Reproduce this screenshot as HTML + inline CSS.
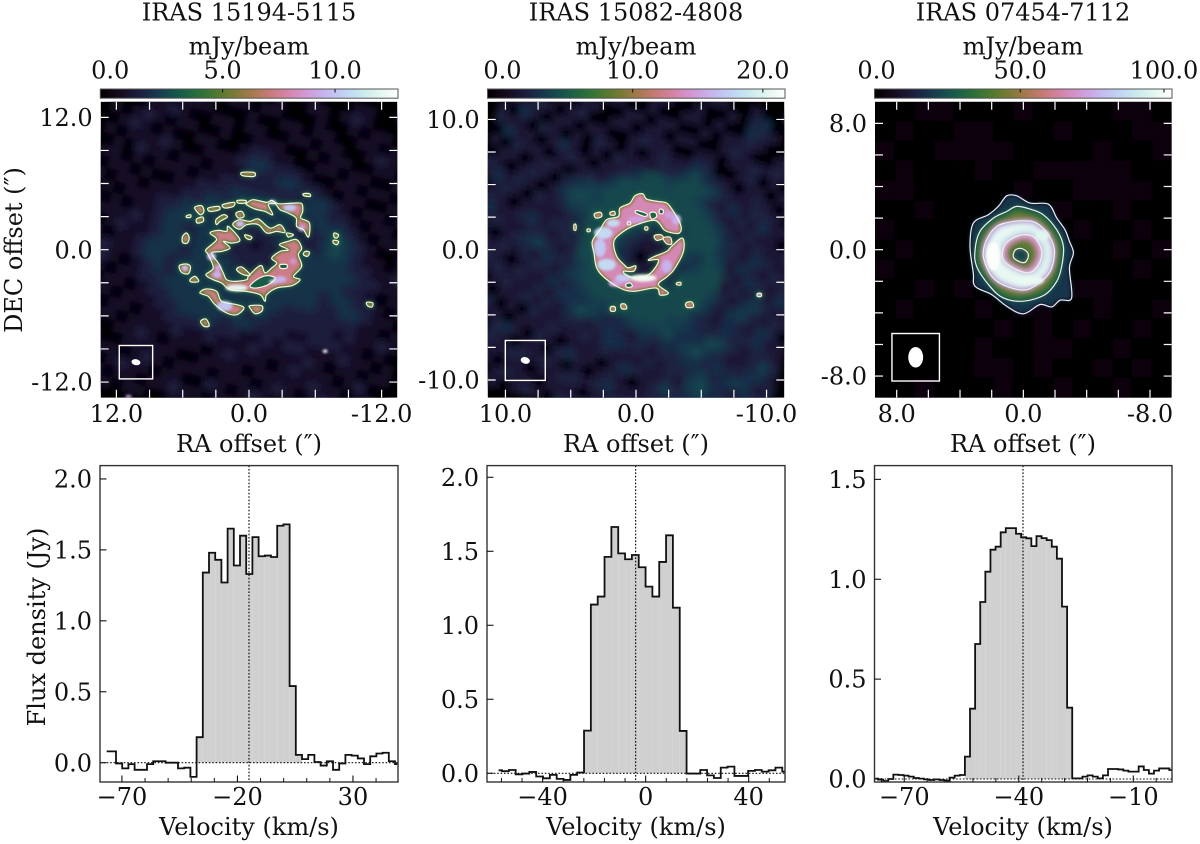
<!DOCTYPE html>
<html lang="en">
<head>
<meta charset="utf-8">
<title>IRAS ring maps and spectra</title>
<style>
html,body{margin:0;padding:0;background:#fff;}
svg{display:block;}
text{font-family:"DejaVu Serif","Liberation Serif",serif;fill:#111;font-size:24px;}
</style>
</head>
<body>
<svg id="figure" width="1200" height="844" viewBox="0 0 1200 844" xmlns="http://www.w3.org/2000/svg">
<defs>
<linearGradient id="cubehelix" x1="0" x2="1" y1="0" y2="0"></linearGradient>
<filter id="blurHeat" x="-5%" y="-5%" width="110%" height="110%"><feGaussianBlur stdDeviation="3.6"/></filter>
<filter id="blurHeat3" x="-5%" y="-5%" width="110%" height="110%"><feGaussianBlur stdDeviation="10"/></filter>
<filter id="blurHalo" x="-5%" y="-5%" width="110%" height="110%"><feGaussianBlur stdDeviation="2.4"/></filter>
<filter id="blurFill" x="-5%" y="-5%" width="110%" height="110%"><feGaussianBlur stdDeviation="0.7"/></filter>
<filter id="blurPeak" x="-5%" y="-5%" width="110%" height="110%"><feGaussianBlur stdDeviation="1.4"/></filter>
<filter id="blurBand" x="-5%" y="-5%" width="110%" height="110%"><feGaussianBlur stdDeviation="2.4"/></filter>
<filter id="erode" x="-5%" y="-5%" width="110%" height="110%"><feMorphology operator="erode" radius="1.7"/><feGaussianBlur stdDeviation="1.1"/></filter>
</defs>
<rect x="0" y="0" width="1200" height="844" fill="#fff"/>

<text x="249" y="20.7" text-anchor="middle">IRAS 15194-5115</text>
<text x="636" y="20.7" text-anchor="middle">IRAS 15082-4808</text>
<text x="1023" y="20.7" text-anchor="middle">IRAS 07454-7112</text>
<text x="249" y="54.3" text-anchor="middle">mJy/beam</text>
<text x="636" y="54.3" text-anchor="middle">mJy/beam</text>
<text x="1023" y="54.3" text-anchor="middle">mJy/beam</text>
<text x="249" y="452" text-anchor="middle">RA offset (″)</text>
<text x="636" y="452" text-anchor="middle">RA offset (″)</text>
<text x="1023" y="452" text-anchor="middle">RA offset (″)</text>
<text transform="translate(22,250) rotate(-90)" text-anchor="middle">DEC offset (″)</text>
<text transform="translate(45,627) rotate(-90)" text-anchor="middle">Flux density (Jy)</text>
<text x="249" y="835" text-anchor="middle">Velocity (km/s)</text>
<text x="636" y="835" text-anchor="middle">Velocity (km/s)</text>
<text x="1023" y="835" text-anchor="middle">Velocity (km/s)</text>
</svg>
<script>
// ---------- Spectrum data (Jy per channel) ----------
const spec1Flux=[0.08,0.08,-0.005,-0.04,-0.01,-0.05,-0.05,-0.01,0.01,0.01,0,0,-0.04,-0.035,-0.10,0.18,1.34,1.48,1.43,1.27,1.65,1.39,1.60,1.33,1.59,1.455,1.46,1.45,1.67,1.68,0.54,0.055,0.025,0.055,0.005,-0.02,0.01,-0.05,-0.005,0.055,0.05,0.03,-0.01,0.045,0.065,0.07,0.01,-0.01];
const spec1VelStart=-76.6;
const spec1VelStep=2.684;
const spec1SignalChannels=[15,31];
const spec1SystemicVel=-15;
const spec1MajorX=[-70,-20,30];
const spec1MinorX=[-60,-50,-40,-30,-10,0,10,20,40];
const spec1YTicks=[0,0.5,1,1.5,2];

const spec2Flux=[0.02,0.014,0.022,-0.007,-0.002,0.009,-0.022,-0.034,-0.011,-0.038,-0.045,-0.011,0.005,0.288,1.14,1.194,1.462,1.664,1.486,1.446,1.475,1.392,1.261,1.194,1.428,1.608,1.119,0.286,-0.002,-0.002,0.022,-0.014,-0.032,0.038,0.045,-0.018,-0.018,0.016,0.022,0.011,0.02,0.038,0.011];
const spec2VelStart=-57.1;
const spec2VelStep=2.654;
const spec2SignalChannels=[13,27];
const spec2SystemicVel=-3.9;
const spec2MajorX=[-40,0,40];
const spec2MinorX=[-56,-48,-32,-24,-16,-8,8,16,24,32,48];
const spec2YTicks=[0,0.5,1,1.5,2];

const spec3Flux=[0.002,-0.003,-0.01,0,0.022,0.02,0.017,0.012,0.005,0.002,-0.002,-0.005,-0.002,-0.005,-0.008,0.007,0.017,0.02,0.112,0.352,0.676,0.886,1.038,1.148,1.163,1.235,1.256,1.256,1.228,1.21,1.205,1.166,1.216,1.206,1.196,1.163,1.103,0.863,0.357,0.003,0.003,0.012,0.018,0.012,0.003,0.018,0.05,0.05,0.048,0.042,0.037,0.037,0.063,0.045,0.027,0.042,0.053,0.053,0.045];
const spec3VelStart=-77.55;
const spec3VelStep=1.339;
const spec3SignalChannels=[18,38];
const spec3SystemicVel=-38.9;
const spec3MajorX=[-70,-40,-10];
const spec3MinorX=[-76,-64,-58,-52,-46,-34,-28,-22,-16,-4];
const spec3YTicks=[0,0.5,1,1.5];

// ---------- Map tick values (arcsec, mJy/beam) ----------
const map1Ticks=[12,9,6,3,0,-3,-6,-9,-12];
const map1TickLabels=[12,0,-12];
const map1CbarTicks=[0,5,10];
const map2Ticks=[10,7.5,5,2.5,0,-2.5,-5,-7.5,-10];
const map2TickLabels=[10,0,-10];
const map2CbarTicks=[0,10,20];
const map3Ticks=[8,6,4,2,0,-2,-4,-6,-8];
const map3TickLabels=[8,0,-8];
const map3CbarTicks=[0,50,100];

// ---------- Map intensity grids, row 0 = north; cell value x grid unit = mJy/beam ----------
const map1GridUnit=0.62;
const map2GridUnit=0.66;
const map3GridUnit=1;
const map1Grid=[
[0,1,0,0,1,1,2,1,0,0,1,0,0,1,0,0,1,1,0,0,0,1,1,0,0,1,0,0,1,0],
[1,0,1,0,0,1,1,0,0,1,1,0,0,0,1,0,0,1,1,0,1,2,1,0,0,0,1,1,0,1],
[0,1,2,1,0,0,0,1,0,0,1,1,0,1,1,0,0,0,1,0,0,1,0,1,1,0,0,1,2,1],
[1,2,1,0,1,0,1,1,1,0,0,0,1,0,0,1,1,0,1,1,0,0,1,1,0,1,1,0,1,0],
[0,0,0,1,1,2,1,0,0,1,1,0,1,1,0,0,1,1,0,1,1,0,0,1,2,1,0,0,0,1],
[1,0,1,2,1,0,1,1,0,0,1,0,0,1,1,1,0,0,1,0,1,1,0,0,1,1,0,1,1,0],
[0,1,2,1,0,1,0,0,1,1,0,0,1,2,2,1,1,0,0,1,1,0,1,1,0,0,1,2,1,0],
[1,0,1,1,1,2,1,0,0,1,1,1,2,3,3,2,2,2,1,0,0,1,1,0,1,1,0,1,0,1],
[0,1,0,2,1,1,0,1,1,0,1,1,1,2,2,2,3,3,2,2,1,0,1,1,0,0,1,1,0,1],
[1,1,0,1,0,1,1,1,0,1,1,2,2,2,2,2,2,2,2,3,3,2,1,0,1,1,0,1,1,2],
[0,1,1,0,1,0,0,1,1,2,2,2,3,3,3,3,3,3,3,3,3,2,2,1,0,1,1,0,1,1],
[1,0,1,1,0,1,1,1,2,2,3,3,2,3,3,3,3,3,3,2,3,3,3,2,1,0,1,1,0,1],
[0,1,0,1,1,1,2,2,3,3,3,2,2,3,3,3,3,3,2,2,2,3,4,3,2,1,0,0,1,0],
[1,0,1,0,1,1,2,3,3,3,3,3,3,3,2,2,2,3,3,2,2,3,4,3,2,1,1,0,1,1],
[0,1,1,1,2,1,2,3,3,2,3,3,3,2,2,1,2,2,3,3,3,3,3,3,2,2,1,1,2,1],
[1,0,1,2,1,1,2,3,3,2,3,3,3,2,2,2,2,2,2,3,3,3,3,3,3,2,2,1,1,0],
[0,1,0,1,1,2,3,3,3,2,3,3,3,3,2,2,2,3,3,3,3,3,3,3,2,2,1,0,1,1],
[1,1,2,1,1,2,3,3,2,3,3,3,3,3,3,3,3,3,3,3,3,3,2,3,3,2,2,1,0,1],
[0,1,2,1,0,1,2,3,2,3,3,3,3,3,3,3,3,3,3,3,3,3,2,2,3,3,2,1,1,0],
[1,0,1,0,1,1,2,2,3,3,3,3,3,3,3,3,3,3,3,2,2,2,2,2,2,2,1,1,0,1],
[0,1,0,1,1,0,1,2,2,3,3,3,3,3,3,3,2,3,2,2,2,2,2,2,1,2,1,1,2,1],
[1,0,1,1,0,1,1,1,2,2,3,3,3,3,2,3,3,2,2,2,1,1,2,2,2,1,1,0,1,0],
[0,1,1,0,1,1,0,1,1,2,2,2,2,2,2,2,1,1,2,1,2,2,1,1,1,2,1,1,0,1],
[1,0,0,1,1,0,1,1,1,1,2,1,1,2,1,1,1,2,1,1,1,1,2,1,0,1,1,0,1,1],
[0,1,1,0,0,1,1,2,1,0,1,1,1,0,1,2,1,1,1,0,1,2,1,1,1,0,1,2,0,0],
[1,0,1,1,0,0,1,1,1,1,1,0,0,1,1,1,1,0,1,1,1,1,1,2,1,1,0,1,1,0],
[0,0,1,1,1,1,0,1,2,1,0,1,1,1,0,1,1,1,0,1,2,1,0,1,2,1,1,0,1,1],
[1,1,2,0,0,1,2,1,1,0,1,1,0,0,2,1,0,1,2,1,0,1,1,0,1,1,0,1,2,1],
[0,1,1,1,1,0,1,1,0,1,1,2,1,1,0,1,1,0,1,1,1,0,1,2,1,0,1,1,1,0],
[1,0,0,2,1,1,0,1,1,0,0,1,1,0,1,1,0,1,1,0,1,1,0,1,0,1,1,0,1,1]];
const map2Grid=[
[0,2,0,4,2,0,0,2,0,0,2,0,2,0,0,2,0,0,2,2,0,0,2,0,0,2,4,2,2,4],
[2,0,2,2,0,2,0,0,2,0,0,2,0,2,2,0,0,2,0,0,2,0,3,4,0,0,2,3,4,2],
[0,3,2,0,2,4,2,0,0,2,2,0,0,2,0,0,2,2,0,2,0,0,4,3,2,0,0,2,2,0],
[2,4,0,2,0,2,0,2,2,0,0,2,2,0,2,2,0,0,2,0,2,2,3,2,0,0,2,4,2,0],
[0,2,2,3,2,0,2,3,0,0,2,2,0,2,2,0,2,2,0,0,2,3,2,0,0,2,3,2,0,2],
[2,0,4,2,0,2,2,0,2,2,0,0,2,3,2,2,0,0,2,2,0,2,2,3,2,3,2,0,2,3],
[3,2,2,0,3,2,0,2,0,3,2,0,2,0,2,3,2,2,4,3,0,0,2,3,0,2,0,2,3,2],
[0,4,2,2,0,2,4,2,0,2,0,3,2,2,2,3,3,4,6,4,3,2,0,2,2,0,2,3,2,0],
[2,0,3,2,2,0,2,3,2,0,2,2,3,4,6,6,5,6,6,6,5,3,2,2,3,2,0,2,2,2],
[0,2,2,0,2,3,2,0,2,3,2,4,6,6,6,6,6,6,6,5,3,2,4,2,3,3,2,0,2,3],
[3,2,0,2,3,2,0,3,4,5,5,6,6,6,6,6,6,6,6,6,5,3,2,3,2,4,2,2,3,2],
[2,4,2,3,2,0,2,4,6,6,5,6,6,6,6,6,6,6,6,6,6,5,3,2,3,2,2,0,2,0],
[0,2,3,2,0,3,2,3,5,5,6,6,6,6,6,6,5,4,5,6,6,6,4,3,2,3,2,2,3,2],
[2,3,2,0,2,2,2,2,3,4,6,6,6,6,5,3,2,3,5,6,6,6,4,3,2,4,3,2,2,4],
[0,4,2,2,3,4,2,3,3,3,6,6,6,5,3,2,2,3,5,5,4,6,5,2,4,3,2,3,2,3],
[2,2,3,2,2,3,3,2,3,3,6,6,6,4,3,0,2,2,3,4,5,6,6,3,2,4,3,2,3,2],
[3,2,0,2,3,4,5,3,2,3,6,6,6,5,3,2,2,4,3,6,6,6,6,2,3,2,4,2,4,3],
[2,3,2,3,2,3,2,4,3,3,5,6,6,6,5,3,4,4,5,6,6,6,5,3,2,4,5,3,2,2],
[0,2,3,2,0,2,3,3,2,4,5,6,6,6,6,6,6,6,6,6,6,6,4,2,4,5,3,2,3,2],
[2,0,2,3,2,3,2,2,4,3,4,5,6,6,6,6,6,6,6,6,6,4,3,2,4,3,2,4,3,0],
[0,2,0,2,3,2,2,3,2,4,4,4,5,5,6,6,6,6,6,5,5,4,3,3,4,3,3,4,2,2],
[2,3,2,0,2,2,3,2,3,2,4,6,5,4,3,4,5,5,5,6,4,4,4,6,5,3,2,3,3,2],
[0,2,2,3,0,2,0,3,2,2,3,3,2,3,4,3,2,4,3,4,4,5,6,4,3,2,2,3,5,3],
[2,0,3,2,2,0,2,2,2,3,2,2,3,2,4,4,3,3,2,3,3,4,4,3,4,3,3,4,4,2],
[3,2,2,0,3,4,2,0,3,2,0,2,2,2,3,2,2,2,3,2,3,3,4,5,3,4,5,4,2,3],
[2,2,0,2,3,2,0,2,2,0,3,4,2,2,0,2,4,3,2,2,3,2,5,6,4,3,2,4,3,2],
[0,3,2,3,2,2,3,3,2,3,2,0,2,0,2,3,2,0,2,3,5,3,4,5,3,4,3,2,3,0],
[2,4,4,3,2,0,2,2,0,2,2,3,3,2,3,4,2,2,2,3,2,4,3,2,3,3,4,2,2,3],
[0,3,5,2,0,2,3,2,2,0,2,2,2,0,2,2,3,3,3,2,4,3,2,4,2,3,2,3,0,2],
[2,5,4,2,3,2,0,2,3,2,0,3,2,3,2,0,2,4,2,0,2,3,2,0,3,2,0,2,3,2]];
const map3Grid=[
[0,0,1,1,0,0,0,1,0,0,0,0,1,1,0],
[0,1,0,0,1,1,0,0,0,1,0,0,0,1,1],
[1,0,0,1,1,2,1,0,0,0,0,1,0,0,1],
[0,1,0,0,0,1,0,0,1,1,1,1,1,0,0],
[1,1,0,0,0,0,0,1,0,0,1,1,1,1,0],
[0,0,1,0,0,0,0,0,0,1,0,0,1,0,0],
[1,0,0,0,0,0,0,0,0,0,1,0,0,1,0],
[0,1,0,0,0,0,0,0,0,0,0,0,1,0,1],
[1,0,0,0,0,0,0,0,0,0,0,0,0,1,0],
[0,0,1,0,1,0,0,0,0,0,1,1,0,0,0],
[0,1,0,0,0,1,0,1,1,0,0,1,0,0,1],
[0,0,0,0,0,0,1,0,1,0,1,0,0,1,0],
[0,0,0,0,0,1,0,0,1,1,0,0,1,0,0],
[0,0,0,0,0,1,1,0,1,0,0,1,0,1,0],
[0,0,1,0,0,0,1,0,0,1,0,0,1,0,0]];

// ---------- Contours, [RA, Dec] in arcsec ----------
const map1Contours=[
[[.21,4.23],[-.39,4.53],[-1.6,4.29],[-2.05,4.47],[-2.66,4.17],[-4.02,4.23],[-4.77,4.17],[-4.86,3.47],[-4.68,2.87],[-5.47,2.42],[-5.38,1.15],[-4.92,1.81],[-4.32,2.11],[-4.26,2.87],[-3.56,3.32],[-2.81,3.63],[-2.36,4.17],[-1.75,4.08],[-2.15,3.17],[-1.45,3.47],[-.54,3.69],[.21,4.08]],
[[1.42,2.42],[.82,2.72],[-.09,2.57],[-.85,2.78],[-1.9,1.96],[-2.81,2.27],[-3.26,1.57],[-2.51,1.66],[-1.6,1.51],[-.85,2.27],[.21,2.27],[.82,1.87],[1.36,2.11]],
[[3.53,1.51],[2.78,1.75],[2.02,1.66],[1.87,2.11],[.82,.91],[1.57,.6],[2.33,.76],[1.72,.15],[2.48,-.15],[3.38,-.3],[2.78,-1.21],[2.33,-2.11],[2.02,-2.72],[1.27,-2.87],[.21,-2.72],[.06,-2.42],[-.69,-1.66],[-1.15,-1.45],[-1.45,-2.11],[-2.05,-1.66],[-2.51,-1.21],[-2.05,-.76],[-2.81,-.15],[-3.56,0],[-2.75,.45],[-3.56,.76],[-4.32,.91],[-4.77,.15],[-4.47,-.45],[-4.77,-1.51],[-4.02,-2.42],[-4.62,-2.72],[-3.87,-3.26],[-2.51,-3.47],[-1.6,-4.08],[-1.45,-4.68],[-1.0,-4.08],[.21,-3.78],[1.72,-3.63],[2.48,-3.02],[3.23,-2.72],[3.9,-2.27],[3.23,-1.66],[3.69,-.45],[3.9,0],[2.93,.91]],
[[1.12,-1.81],[.66,-1.57],[-.09,-2.27],[.51,-2.27]],
[[4.44,-3.93],[3.9,-3.56],[2.93,-3.78],[2.48,-4.68],[1.12,-4.98],[.45,-5.29],[1.12,-5.89],[2.02,-5.74],[3.08,-4.98],[3.69,-4.23]],
[[-.09,-5.08],[-1.15,-5.08],[-1.15,-5.59],[-.54,-5.8],[-.09,-5.29]],
[[4.89,3.87],[4.29,3.99],[4.08,3.47],[4.38,3.17],[4.8,3.56]],
[[3.69,3.78],[2.78,3.93],[2.69,3.63],[3.53,3.47]],
[[2.39,4.08],[1.36,4.29],[1.42,3.93],[2.18,3.78]],
[[1.06,4.47],[.3,4.47],[.36,4.23],[.97,4.23]],
[[4.74,2.78],[4.2,2.96],[4.14,2.57],[4.68,2.42]],
[[5.65,3.08],[5.29,3.17],[5.29,2.93],[5.65,2.93]],
[[2.99,2.72],[2.33,3.17],[1.96,2.96],[2.63,2.57],[2.93,2.27]],
[[1.18,3.32],[.66,3.47],[.45,3.02],[.97,2.87]],
[[6.01,1.21],[5.65,1.51],[5.41,1.06],[5.59,.6],[6.01,.66]],
[[6.31,-1.45],[5.65,-1.3],[5.29,-1.57],[5.5,-2.18],[6.1,-2.05]],
[[5.35,-2.72],[4.89,-2.42],[4.56,-2.87],[5.2,-2.93]],
[[4.38,-6.5],[3.9,-6.28],[3.6,-6.89],[4.08,-6.95]],
[[-4.92,5.08],[-5.47,5.08],[-5.53,4.83],[-4.98,4.89]],
[[-3.41,1.51],[-4.02,1.36],[-3.56,1.15]],
[[-5.08,-.15],[-5.47,-.24],[-5.29,-.6],[-4.92,-.45]],
[[-7.7,1.51],[-8.1,1.36],[-7.95,1.06],[-7.7,1.15]],
[[-7.64,.85],[-8.1,.76],[-7.95,.45],[-7.64,.6]],
[[-10.66,-4.77],[-11.2,-4.83],[-11.12,-5.2],[-10.72,-5.08]],
[[.36,1.36],[-.24,1.15],[-.09,.91],[.27,1.06]],
[[.66,7.0],[-.45,7.0],[-.45,6.65],[.57,6.71]]];
const map1Holes=[
[[-.09,-3.32],[-.69,-2.72],[-1.6,-2.36],[-2.36,-2.57],[-1.75,-3.17],[-.69,-3.47]],
[[-2.81,-1.36],[-3.41,-1.36],[-3.41,-1.66],[-2.87,-1.69]]];
// [RA, Dec, mJy/beam, radius RA, radius Dec]
const map1Peaks=[[1.12,-3.47,12,1.0,.3],[2.2,-5.1,10,.7,.45],[3.4,-.6,9.5,.4,.35],[2.8,-1.66,9,.3,.3],[2.9,-2.27,9.5,.4,.3],[-2.8,-2.7,9.5,.6,.3],[-3.7,3.8,10,.6,.3],[-2.15,4.3,10,.3,.2],[.8,2.35,10,.35,.25],[5.8,-1.66,10,.25,.25],[-4.77,1.96,9,.3,.3],[-4,-1.06,8.5,.3,.3],[-6.89,-9.21,13,.22,.16],[10.9,-13.3,9,.3,.14],[-2.2,-2.9,10,.4,.2]];

const map2Contours=[
[[.08,4.14],[-.51,4.29],[-.82,3.88],[-1.71,3.7],[-2.35,3.58],[-2.78,3.07],[-3.42,1.92],[-3.32,1.28],[-2.61,1.33],[-2.15,1.53],[-1.46,2.25],[-.05,1.92],[.97,1.4],[1.69,.64],[1.48,-.51],[.92,-1.15],[.59,-1.4],[.03,-1.23],[.2,-1.66],[.97,-1.66],[.46,-2.09],[-.82,-1.99],[-1.46,-1.4],[-1.71,-.77],[-.95,-.82],[-1.33,-.56],[-2.35,-.13],[-2.73,.26],[-3.55,.89],[-3.63,-.13],[-2.91,-1.53],[-2.35,-2.09],[-1.71,-2.68],[-2.48,-3.32],[-1.84,-3.47],[-1.53,-2.94],[.2,-3.19],[1.23,-2.94],[2.38,-2.17],[3.01,-1.4],[3.22,-.26],[3.35,.64],[2.76,1.53],[2.25,2.3],[1.35,2.55],[1.23,3.19],[.46,3.58]],
[[-1.4,1.07],[-1.89,1.15],[-2.09,.89],[-1.58,.72]],
[[-2.09,.89],[-2.61,.95],[-2.73,.46],[-2.35,.46]],
[[3.19,2.76],[2.71,2.86],[2.63,2.55],[3.07,2.43]],
[[1.99,2.86],[1.66,2.94],[1.61,2.68],[1.94,2.66]],
[[1.94,-4.39],[1.61,-4.39],[1.61,-4.7],[1.94,-4.7]],
[[1.15,-4.19],[.82,-4.19],[.72,-4.52],[1.1,-4.52]],
[[-3.83,-4.09],[-4.27,-4.01],[-4.39,-4.39],[-3.88,-4.42]],
[[-3.12,-2.55],[-3.42,-2.5],[-3.42,-2.71],[-3.12,-2.68]],
[[-9.3,-3.37],[-9.58,-3.37],[-9.58,-3.58],[-9.3,-3.58]],
[[4.75,1.92],[4.6,1.92],[4.6,1.53],[4.75,1.53]],
[[3.73,1.58],[3.52,1.58],[3.52,1.4],[3.73,1.4]],
[[.64,2.12],[.43,2.12],[.43,1.92],[.64,1.92]],
[[-.69,1.74],[-.89,1.74],[-.89,1.53],[-.69,1.53]]];
const map2Holes=[
[[-.05,3.01],[-.82,2.76],[-.69,2.55],[0,2.82]],
[[-1.07,2.81],[-1.46,2.86],[-1.58,2.55],[-1.2,2.35]],
[[-1.84,3.12],[-2.09,3.01],[-2.04,2.76],[-1.79,2.81]],
[[.79,-2.68],[.46,-2.55],[.28,-2.81],[.66,-2.89]]];
const map2Peaks=[[2.5,1.28,18,.7,.45],[2.76,.13,17,.45,.7],[2.25,-1.15,18,.7,.45],[-.56,-2.17,21,1.0,.28],[.97,-2.17,17,.6,.3],[1.74,2.04,18,.5,.3],[-2.35,-1.28,16,.4,.5],[-3.1,2.3,16,.35,.4],[0,2.3,15,.7,.25],[-2.6,2.68,15,.4,.3],[1.6,-2.6,15,.5,.25],[-9.45,-3.47,16,.16,.12]];

const map3OuterContour=[[1.05,3.41],[.42,3.41],[-.42,2.95],[-1.58,2.88],[-2.11,2.0],[-2.63,1.26],[-2.91,.53],[-3.16,-.21],[-2.91,-1.16],[-3.05,-3.05],[-2.32,-3.2],[-1.79,-3.62],[-1.05,-3.47],[0,-4.06],[1.05,-3.58],[2.0,-2.84],[3.05,-2.32],[3.16,-1.47],[3.37,.21],[3.16,1.68],[2.21,2.21],[1.58,2.74]];
const map3SecondContour=[[.42,2.74],[-.42,2.57],[-1.26,2.21],[-2.11,1.26],[-2.53,.21],[-2.42,-1.05],[-2.11,-2.0],[-1.37,-2.84],[0,-3.26],[1.26,-3.05],[2.11,-2.32],[2.95,-1.05],[3.05,0],[2.74,1.16],[1.89,2.0],[1.05,2.42]];
const map3ThirdContour=[[-.11,1.83],[-.84,1.68],[-1.58,.95],[-1.96,0],[-1.79,-1.16],[-1.26,-1.89],[-.21,-2.53],[1.05,-2.32],[2.0,-1.68],[2.53,-.42],[2.32,.63],[1.68,1.47],[.84,1.75]];
const map3InnerContour=[[0,.95],[-.74,.74],[-1.16,-.11],[-.95,-.95],[-.32,-1.47],[.63,-1.16],[1.26,-.63],[1.26,.11],[.84,.63]];
const map3CenterContour=[[.17,.08],[-.21,-.11],[-.32,-.42],[-.11,-.8],[.25,-.76],[.63,-.46],[.53,-.04]];
const map3BandValues=[18,32,44,58,80,98,90,66,42,22];
const map3Peaks=[[1.9,-.42,102,.45,.9],[-.4,-1.95,98,.9,.3],[-1.2,.9,96,.45,.35]];
const map3RingCentre=[.2,-.35];

// ---------- Colour map ----------
function cubehelix(l){
  l=Math.max(0,Math.min(1,l));
  const a=l*(1-l)/2, p=2*Math.PI*(0.5/3-1.5*l), c=Math.cos(p), s=Math.sin(p);
  const r=l+a*(-0.14861*c+1.78277*s), g=l+a*(-0.29227*c-0.90649*s), b=l+a*(1.97294*c);
  const f=v=>Math.round(255*Math.max(0,Math.min(1,v)));
  return 'rgb('+f(r)+','+f(g)+','+f(b)+')';
}
const NS='http://www.w3.org/2000/svg';
const svg=document.getElementById('figure');
function node(tag,parent,attrs,txt){
  const el=document.createElementNS(NS,tag);
  for(const k in attrs) el.setAttribute(k,attrs[k]);
  if(txt!==undefined) el.textContent=txt;
  parent.appendChild(el);
  return el;
}
function linear(d0,d1,r0,r1){return v=>r0+(v-d0)*(r1-r0)/(d1-d0);}
function curve(pts){
  const n=pts.length; let d='M'+pts[0][0].toFixed(1)+' '+pts[0][1].toFixed(1);
  for(let i=0;i<n;i++){
    const p0=pts[(i-1+n)%n],p1=pts[i],p2=pts[(i+1)%n],p3=pts[(i+2)%n];
    d+='C'+(p1[0]+(p2[0]-p0[0])/6).toFixed(1)+' '+(p1[1]+(p2[1]-p0[1])/6).toFixed(1)+' '+(p2[0]-(p3[0]-p1[0])/6).toFixed(1)+' '+(p2[1]-(p3[1]-p1[1])/6).toFixed(1)+' '+p2[0].toFixed(1)+' '+p2[1].toFixed(1);
  }
  return d+'Z';
}
const gradient=document.getElementById('cubehelix');
for(let i=0;i<=48;i++){
  node('stop',gradient,{offset:(i/48*100)+'%','stop-color':cubehelix(i/48)});
}

// ---------- Map axes ----------
function makeMapAxes(box,lim){
  const x=linear(lim,-lim,box[0],box[1]);
  const y=linear(lim,-lim,box[2],box[3]);
  return {x:x,y:y,path:(pts)=>curve(pts.map(p=>[x(p[0]),y(p[1])]))};
}
function drawColorbar(box,vmin,vmax,ticks){
  const g=node('g',svg,{});
  
  
  const cx=linear(vmin,vmax,box[0],box[1]);
  const bar=node('rect',g,{x:box[0],y:89,width:box[1]-box[0],height:9.2,fill:'url(#cubehelix)',stroke:'#555','stroke-width':1});
  
  
  ticks.forEach(t=>{
    const tk=node('line',g,{x1:cx(t),x2:cx(t),y1:89,y2:92.5,stroke:'#111','stroke-width':1});
    
    
    const lb=node('text',g,{x:cx(t),y:78.7,'text-anchor':'middle'},t.toFixed(1));
    
    
  });
}
function drawMapFrame(g,box,axes,ticks,labels){
  ticks.forEach(t=>{
    [[axes.x(t),box[2],axes.x(t),box[2]+8],[axes.x(t),box[3],axes.x(t),box[3]-8],[box[0],axes.y(t),box[0]+8,axes.y(t)],[box[1],axes.y(t),box[1]-8,axes.y(t)]].forEach(s=>{
      const tk=node('line',g,{x1:s[0],y1:s[1],x2:s[2],y2:s[3],stroke:'#fff','stroke-width':1.2});
      
      
    });
  });
  labels.forEach(t=>{
    const lx=node('text',svg,{x:axes.x(t),y:422,'text-anchor':'middle'},t.toFixed(1));
    
    
    const ly=node('text',svg,{x:box[0]-8,y:axes.y(t)+8.6,'text-anchor':'end'},t.toFixed(1));
    
    
  });
}
function drawHeat(parent,grid,unit,box,vmin,vmax,filterId,tilt){
  const cxm=(box[0]+box[1])/2, cym=(box[2]+box[3])/2;
  const attrs={filter:'url(#'+filterId+')'};
  if(tilt) attrs.transform='translate('+cxm+' '+cym+') rotate('+tilt+') scale(1.14) translate('+(-cxm)+' '+(-cym)+')';
  const g=node('g',parent,attrs);
  
  
  const rows=grid.length, cols=grid[0].length;
  const col=linear(0,cols,box[0],box[1]), row=linear(0,rows,box[2],box[3]);
  const norm=linear(vmin,vmax,0,1);
  grid.forEach((rowVals,r)=>rowVals.forEach((v,c)=>{
    const cell=node('rect',g,{x:col(c)-.2,y:row(r)-.2,width:col(c+1)-col(c)+.4,height:row(r+1)-row(r)+.4,fill:v===0?'#000':cubehelix(norm(v*unit))});
    
    
  }));
}
function drawPeaks(parent,peaks,axes,vmin,vmax,filterId){
  const norm=linear(vmin,vmax,0,1);
  const g=node('g',parent,{filter:'url(#'+filterId+')'});
  
  
  peaks.forEach(p=>{
    const sx=Math.abs(axes.x(1)-axes.x(0)), sy=Math.abs(axes.y(1)-axes.y(0));
    const e=node('ellipse',g,{cx:axes.x(p[0]),cy:axes.y(p[1]),rx:p[3]*sx,ry:p[4]*sy,fill:cubehelix(norm(p[2]))});
    
    
  });
}
function drawBeam(parent,axes,cx,cy,half,rx,ry,rot){
  const px=axes.x(cx), py=axes.y(cy), sx=Math.abs(axes.x(1)-axes.x(0));
  const b=node('rect',parent,{x:px-half*sx,y:py-half*sx,width:2*half*sx,height:2*half*sx,fill:'none',stroke:'#fff','stroke-width':1.4});
  
  
  const e=node('ellipse',parent,{cx:px,cy:py,rx:rx*sx,ry:ry*sx,fill:'#fff',transform:'rotate('+rot+' '+px+' '+py+')'});
  
  
}
function drawRingMap(id,box,lim,grid,unit,contours,holes,peaks,vmin,vmax,fillLow,fillHigh,haloVal,holeVal,ticks,labels,beam){
  const axes=makeMapAxes(box,lim);
  const norm=linear(vmin,vmax,0,1);
  const clip=node('clipPath',svg,{id:'clip'+id});
  node('rect',clip,{x:box[0],y:box[2],width:box[1]-box[0],height:box[3]-box[2]});
  const g=node('g',svg,{'clip-path':'url(#clip'+id+')'});
  
  
  const bg=node('rect',g,{x:box[0],y:box[2],width:box[1]-box[0],height:box[3]-box[2],fill:'#000'});
  
  
  drawHeat(g,grid,unit,box,vmin,vmax,'blurHeat',14);
  const halo=node('g',g,{filter:'url(#blurHalo)'});
  
  
  contours.forEach(c=>{
    const p=node('path',halo,{d:axes.path(c),fill:cubehelix(norm(haloVal)),stroke:cubehelix(norm(haloVal)),'stroke-width':2.5});
    
    
  });
  const low=node('g',g,{filter:'url(#blurFill)'});
  
  
  contours.forEach(c=>{
    const p=node('path',low,{d:axes.path(c),fill:cubehelix(norm(fillLow))});
    
    
  });
  const high=node('g',g,{filter:'url(#erode)'});
  
  
  contours.forEach(c=>{
    const p=node('path',high,{d:axes.path(c),fill:cubehelix(norm(fillHigh))});
    
    
  });
  holes.forEach(c=>{
    const p=node('path',g,{d:axes.path(c),fill:cubehelix(norm(holeVal))});
    
    
  });
  drawPeaks(g,peaks,axes,vmin,vmax,'blurPeak');
  contours.concat(holes).forEach(c=>{
    const p=node('path',g,{d:axes.path(c),fill:'none',stroke:'#f4f6e2','stroke-width':1.2});
    
    
  });
  drawBeam(g,axes,beam[0],beam[1],beam[2],beam[3],beam[4],beam[5]);
  drawMapFrame(g,box,axes,ticks,labels);
}
function scaled(pts,k){return pts.map(p=>[map3RingCentre[0]+(p[0]-map3RingCentre[0])*k,map3RingCentre[1]+(p[1]-map3RingCentre[1])*k]);}
function drawMap3(box,lim,vmin,vmax){
  const axes=makeMapAxes(box,lim);
  const norm=linear(vmin,vmax,0,1);
  const clip=node('clipPath',svg,{id:'clip3'});
  node('rect',clip,{x:box[0],y:box[2],width:box[1]-box[0],height:box[3]-box[2]});
  const g=node('g',svg,{'clip-path':'url(#clip3)'});
  
  
  const bg=node('rect',g,{x:box[0],y:box[2],width:box[1]-box[0],height:box[3]-box[2],fill:'#000'});
  
  
  drawHeat(g,map3Grid,map3GridUnit,box,vmin,vmax,'blurHeat3',0);
  const shapes=[map3OuterContour,map3SecondContour,scaled(map3SecondContour,.87),scaled(map3ThirdContour,1.04),map3ThirdContour,scaled(map3ThirdContour,.9),scaled(map3InnerContour,1.25),map3InnerContour,scaled(map3InnerContour,.76),map3CenterContour];
  const bands=node('g',g,{filter:'url(#blurBand)'});
  
  
  shapes.forEach((s,i)=>{
    const p=node('path',bands,{d:axes.path(s),fill:cubehelix(norm(map3BandValues[i]))});
    
    
  });
  drawPeaks(g,map3Peaks,axes,vmin,vmax,'blurPeak');
  [map3OuterContour,map3SecondContour,map3ThirdContour,map3InnerContour,map3CenterContour].forEach(c=>{
    const p=node('path',g,{d:axes.path(c),fill:'none',stroke:'#f2ecf8','stroke-width':1.2});
    
    
  });
  drawBeam(g,axes,6.8,-6.81,1.5,.47,.65,0);
  drawMapFrame(g,box,axes,map3Ticks,map3TickLabels);
}

// ---------- Spectra ----------
function drawSpectrum(box,xlim,ylim,flux,v0,dv,signal,sysVel,majorX,minorX,yTicks){
  const x=linear(xlim[0],xlim[1],box[0],box[1]);
  const y=linear(ylim[0],ylim[1],box[3],box[2]);
  const id='spec'+Math.round(box[0]);
  const clip=node('clipPath',svg,{id:id});
  node('rect',clip,{x:box[0],y:box[2],width:box[1]-box[0],height:box[3]-box[2]});
  const g=node('g',svg,{});
  
  
  const plot=node('g',g,{'clip-path':'url(#'+id+')'});
  
  
  flux.forEach((f,i)=>{
    if(i<signal[0]||i>signal[1]) return;
    const c=v0+i*dv;
    const bar=node('rect',plot,{x:x(c-dv/2),width:x(c+dv/2)-x(c-dv/2),y:Math.min(y(f),y(0)),height:Math.abs(y(f)-y(0)),fill:'#d0d0d0'});
    
    
  });
  const h=node('line',plot,{x1:box[0],x2:box[1],y1:y(0),y2:y(0),stroke:'#111','stroke-width':1.1,'stroke-dasharray':'1.6 1.8'});
  
  
  let d='M'+x(v0)+' '+y(flux[0]);
  flux.forEach((f,i)=>{
    const c=v0+i*dv;
    if(i>0) d+='V'+y(f);
    d+='H'+x(c+(i===flux.length-1?0:dv/2));
  });
  const line=node('path',plot,{d:d,fill:'none',stroke:'#111','stroke-width':1.8,'stroke-linejoin':'miter'});
  
  
  const v=node('line',plot,{x1:x(sysVel),x2:x(sysVel),y1:box[2],y2:box[3],stroke:'#111','stroke-width':1.2,'stroke-dasharray':'1.6 1.8'});
  
  
  const fr=node('rect',g,{x:box[0],y:box[2],width:box[1]-box[0],height:box[3]-box[2],fill:'none',stroke:'#333','stroke-width':1.4});
  
  
  majorX.forEach(t=>{
    const tk=node('line',g,{x1:x(t),x2:x(t),y1:box[3],y2:box[3]-6.5,stroke:'#111','stroke-width':1.1});
    
    
    const lb=node('text',g,{x:x(t),y:805,'text-anchor':'middle'},(t<0?'\u2212':'')+Math.abs(t));
    
    
  });
  minorX.forEach(t=>{
    const tk=node('line',g,{x1:x(t),x2:x(t),y1:box[3],y2:box[3]-4,stroke:'#111','stroke-width':1});
    
    
  });
  yTicks.forEach(t=>{
    const tk=node('line',g,{x1:box[0],x2:box[0]+6.5,y1:y(t),y2:y(t),stroke:'#111','stroke-width':1.1});
    
    
    const lb=node('text',g,{x:box[0]-8,y:y(t)+8.6,'text-anchor':'end'},t.toFixed(1));
    
    
  });
}

drawColorbar([100.3,398],-0.44,12.8,map1CbarTicks);
drawColorbar([487.5,785],-1.15,21.7,map2CbarTicks);
drawColorbar([874.5,1172],-0.7,102.8,map3CbarTicks);
drawRingMap(1,[100.7,397.3,101.7,397.7],13.42,map1Grid,map1GridUnit,map1Contours,map1Holes,map1Peaks,-0.44,12.8,5.2,7.3,3.6,3.2,map1Ticks,map1TickLabels,[10.23,-10.2,1.51,.41,.27,12]);
drawRingMap(2,[487.7,784.3,101.7,397.7],11.36,map2Grid,map2GridUnit,map2Contours,map2Holes,map2Peaks,-1.15,21.7,10,13.5,6,5.5,map2Ticks,map2TickLabels,[8.48,-8.5,1.53,.36,.25,15]);
drawMap3([875,1171.7,101.7,397.7],9.37,-0.7,102.8);
drawSpectrum([100,398,465.6,782],[-79.5,49.5],[-0.136,2.094],spec1Flux,spec1VelStart,spec1VelStep,spec1SignalChannels,spec1SystemicVel,spec1MajorX,spec1MinorX,spec1YTicks);
drawSpectrum([487,785,465.6,782],[-61.6,54.1],[-0.059,2.079],spec2Flux,spec2VelStart,spec2VelStep,spec2SignalChannels,spec2SystemicVel,spec2MajorX,spec2MinorX,spec2YTicks);
drawSpectrum([874.5,1172,465.6,782],[-77.8,0.14],[-0.015,1.569],spec3Flux,spec3VelStart,spec3VelStep,spec3SignalChannels,spec3SystemicVel,spec3MajorX,spec3MinorX,spec3YTicks);
</script>
</body>
</html>
